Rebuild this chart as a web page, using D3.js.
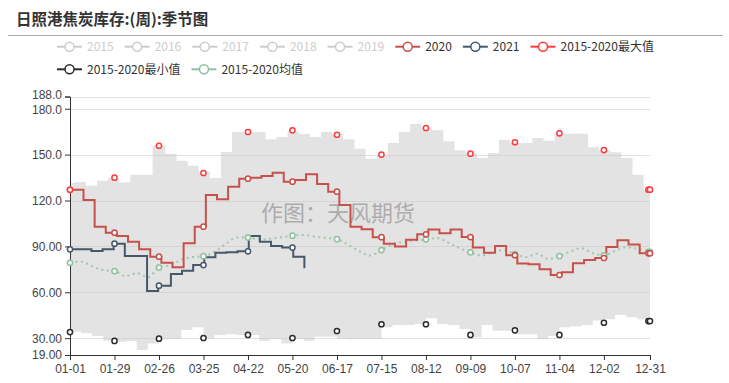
<!DOCTYPE html>
<html><head><meta charset="utf-8">
<script src="https://cdn.jsdelivr.net/npm/d3@7/dist/d3.min.js"></script>
<style>
body{margin:0;background:#fff;}
svg{display:block;font-family:"Noto Sans CJK SC","Noto Sans",sans-serif;}
</style>
</head><body>
<svg id="chart" width="729" height="383"></svg>
<script>
// ---------------- data ----------------
const chartTitle = "日照港焦炭库存:(周):季节图";
const watermark = "作图：天风期货";
const xTickDays = [0,28,56,84,112,140,168,196,224,252,280,308,336,365];
const xTickLabels = ["01-01","01-29","02-26","03-25","04-22","05-20","06-17","07-15","08-12","09-09","10-07","11-04","12-02","12-31"];
const yTicks = [19,30,60,90,120,150,180,188];
const yTickLabels = ["19.00","30.00","60.00","90.00","120.0","150.0","180.0","188.0"];

const legendNames = ["2015","2016","2017","2018","2019","2020","2021","2015-2020最大值","2015-2020最小值","2015-2020均值"];
const legendActive = [false,false,false,false,false,true,true,true,true,true];

// weekly values (2020: Fridays of 2020)
const values2020 = [127.0,120.3,102.9,99.0,96.8,93.1,88.1,83.3,79.3,76.3,92.0,102.9,123.6,120.8,129.0,134.3,134.8,136.0,138.2,132.3,133.4,137.1,130.8,125.8,117.1,102.9,101.2,96.0,91.8,90.0,94.4,97.9,101.0,98.6,101.0,96.1,89.2,85.9,90.3,84.2,78.8,78.3,75.1,71.3,73.1,79.0,81.1,82.4,89.6,94.0,91.2,85.5];
// weekly values (2021: Fridays of 2021)
const values2021 = [88.1,88.1,87.0,88.1,91.8,83.7,83.7,60.8,64.3,72.0,74.1,77.8,82.9,85.9,86.2,86.8,96.8,93.1,90.3,89.2,83.3,76.3];
// range band (upper / lower edge, weekly)
const bandUpper = [131.5,132.1,129.7,133.0,134.7,131.9,136.9,136.9,156.1,150.6,146.0,142.8,139.0,134.7,151.7,164.8,164.8,164.8,160.0,161.5,165.2,163.5,161.5,164.8,163.5,160.0,153.8,147.3,149.5,157.6,164.8,170.0,167.8,165.9,158.7,152.8,151.1,147.8,151.1,159.8,157.6,157.6,160.9,159.1,163.7,163.7,163.7,154.8,152.8,151.5,147.8,136.9,127.1];
const bandLower = [34.2,33.2,31.4,28.3,27.7,28.1,22.3,26.6,29.3,29.3,35.3,37.1,29.9,32.1,32.5,32.1,32.1,28.3,29.3,26.6,29.3,28.3,31.0,31.0,29.7,29.3,29.3,29.3,37.1,38.6,38.6,39.3,43.0,39.3,38.6,36.0,30.6,38.6,34.9,34.9,32.5,32.5,29.3,31.4,37.1,37.8,38.6,41.5,42.3,45.1,43.6,42.3,42.3];
// 2015-2020 mean, sampled every 7 days (plus 12-31)
const meanValues = [79.3,80.0,77.0,74.5,73.9,70.5,72.5,69.8,76.2,77.8,81.3,83.0,83.6,86.5,91.5,95.8,95.8,94.5,95.0,96.0,97.0,97.4,96.5,95.5,94.7,91.0,87.0,84.0,87.6,91.4,93.0,93.8,94.6,95.5,92.5,89.0,86.1,84.0,86.0,87.6,85.0,83.0,85.2,81.8,83.7,86.8,88.8,85.5,84.2,87.0,89.4,88.5,86.5,86.5];
// symbol days and max/min values at those days
const markDays = [0,28,56,84,112,140,168,196,224,252,280,308,336,364,365];
const maxMarks = [127.0,134.9,155.8,138.0,164.8,165.9,163.0,150.0,167.4,150.6,158.1,163.9,153.0,127.1,127.1];
const minMarks = [34.0,28.2,29.7,30.1,32.1,30.1,34.7,39.1,39.1,32.1,35.1,32.1,40.1,41.2,41.2];

// ---------------- styles ----------------
const C2020 = "#c8504b", C2021 = "#465869", CMAX = "#ff3b3b", CMIN = "#2b2b2b", CMEAN = "#8fbf9f", CGRAY = "#cccccc";
const legendColors = [CGRAY,CGRAY,CGRAY,CGRAY,CGRAY,C2020,C2021,CMAX,CMIN,CMEAN];

// ---------------- helpers ----------------
const axisDay = d => d >= 59 ? d + 1 : d;   // non-leap day-of-year -> leap-year axis index
function stepPoints(vals, startFn, endDay){
  const pts = vals.map((v,k)=>({d: Math.max(0, startFn(k)), v}));
  pts.push({d:endDay, v: vals[vals.length-1]});
  return pts;
}
function corners(pts){
  const out=[];
  for(let i=0;i<pts.length-1;i++){ out.push({d:pts[i].d, v:pts[i].v}); out.push({d:pts[i+1].d, v:pts[i].v}); }
  return out;
}
function valueAt(pts, day){
  let v=null; for(const p of pts){ if(p.d<=day) v=p.v; } return v;
}

const pts2020 = stepPoints(values2020, k => k===0 ? 0 : 2+7*k-0.5, 365);
const pts2021 = stepPoints(values2021, k => k===0 ? 0 : axisDay(7*k)-0.5, axisDay(7*(values2021.length-1)));
const ptsUp   = stepPoints(bandUpper, k => k===0 ? 0 : axisDay(7*k-4), 365);
const ptsLow  = stepPoints(bandLower, k => 7*k, 365);
const ptsMean = meanValues.map((v,i)=>({d: Math.min(7*i,365), v}));

// ---------------- drawing ----------------
const svg = d3.select("#chart");
const x = d3.scaleLinear().domain([0,365]).range([70,650]);
const y = d3.scaleLinear().domain([19,188]).range([355,96.5]);

// title
svg.append("text").attr("x",16).attr("y",25).attr("font-size",15.5).attr("font-weight","bold")
  .attr("fill","#333").text(chartTitle);
svg.append("line").attr("x1",8).attr("x2",723).attr("y1",35.5).attr("y2",35.5)
  .attr("stroke","#aaa").attr("stroke-width",1);

// legend
(function(){
  const g = svg.append("g").attr("font-size",12);
  let lx = 57, ly = 46.7;
  legendNames.forEach((name,i)=>{
    if(i===8){ lx = 57; ly = 69.3; }
    const col = legendColors[i];
    const it = g.append("g");
    it.append("line").attr("x1",lx).attr("x2",lx+25).attr("y1",ly).attr("y2",ly).attr("stroke",col).attr("stroke-width",2);
    it.append("circle").attr("cx",lx+12.5).attr("cy",ly).attr("r",4.5).attr("fill","#fff").attr("stroke",col).attr("stroke-width",1.5);
    const t = it.append("text").attr("x",lx+30).attr("y",ly).attr("dy","0.35em")
      .attr("fill", legendActive[i] ? "#333" : "#ccc").text(name);
    lx += 30 + t.node().getComputedTextLength() + 11;
  });
})();

// grid
svg.append("g").selectAll("line").data(yTicks.filter(v=>v>19)).join("line")
  .attr("x1",70).attr("x2",650).attr("y1",d=>Math.round(y(d))+0.5).attr("y2",d=>Math.round(y(d))+0.5)
  .attr("stroke","#e0e0e0").attr("stroke-width",1);

// band
const bandPoly = corners(ptsUp).concat(corners(ptsLow).reverse());
svg.append("path")
  .attr("d", d3.line().x(p=>x(p.d)).y(p=>y(p.v))(bandPoly)+"Z")
  .attr("fill","#c8c8c8").attr("fill-opacity",0.5);

// watermark
svg.append("text").attr("x",261).attr("y",221).attr("font-size",22).attr("fill","#999").attr("fill-opacity",0.75)
  .text(watermark);

// axes
const yAxis = d3.axisLeft(y).tickValues(yTicks).tickFormat((d,i)=>yTickLabels[i]).tickSizeOuter(0).tickSize(5).tickPadding(3);
const gy = svg.append("g").attr("transform","translate(70,0)").call(yAxis);
const xAxis = d3.axisBottom(x).tickValues(xTickDays).tickFormat((d,i)=>xTickLabels[i]).tickSizeOuter(0).tickSize(5).tickPadding(4);
const gx = svg.append("g").attr("transform","translate(0,355)").call(xAxis);
[gx,gy].forEach(g=>{
  g.selectAll("path,line").attr("stroke","#333");
  g.selectAll("text").attr("fill","#444").attr("font-size",12).attr("font-family","'Liberation Sans','Noto Sans',sans-serif");
});
// keep the two top labels (188 / 180) from colliding
gy.selectAll(".tick text").attr("dy", d => d===188 ? "0.2em" : (d===180 ? "0.38em" : "0.32em"));

// lines
const lineStep = d3.line().x(p=>x(p.d)).y(p=>y(p.v)).curve(d3.curveStepAfter);
svg.append("path").datum(ptsMean).attr("d", d3.line().x(p=>x(p.d)).y(p=>y(p.v)).curve(d3.curveMonotoneX))
  .attr("fill","none").attr("stroke",CMEAN).attr("stroke-width",2).attr("stroke-dasharray","2,3.5").attr("stroke-opacity",0.8);
svg.append("path").datum(pts2021).attr("d", lineStep).attr("fill","none").attr("stroke",C2021).attr("stroke-width",2);
svg.append("path").datum(pts2020).attr("d", lineStep).attr("fill","none").attr("stroke",C2020).attr("stroke-width",2);

// symbols
function marks(data, col){
  svg.append("g").selectAll("circle").data(data).join("circle")
    .attr("cx",p=>x(p.d)).attr("cy",p=>y(p.v)).attr("r",2.6)
    .attr("fill","#fff").attr("stroke",col).attr("stroke-width",1.5);
}
marks(markDays.map((d,i)=>({d, v:minMarks[i]})), CMIN);
marks(markDays.map(d=>({d, v:valueAt(ptsMean,d)})), CMEAN);
marks(markDays.filter(d=>d<=pts2021[pts2021.length-1].d).map(d=>({d, v:valueAt(pts2021,d)})), C2021);
marks(markDays.map(d=>({d, v:valueAt(pts2020,d)})), C2020);
marks(markDays.map((d,i)=>({d, v:maxMarks[i]})), CMAX);
</script>
</body></html>
